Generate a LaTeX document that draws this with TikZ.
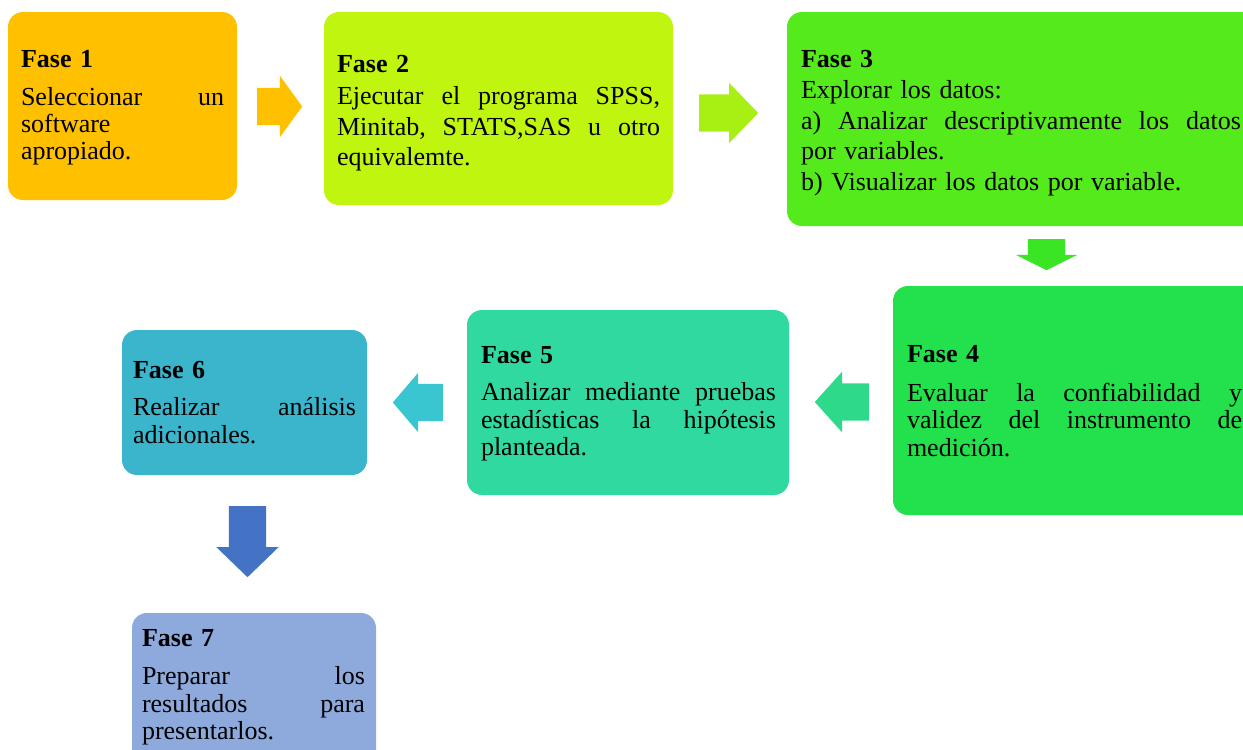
\documentclass[tikz,border=0pt]{standalone}
\usepackage{fontspec}
\setmainfont{Liberation Serif}
\usetikzlibrary{shapes.arrows}

\definecolor{cOne}{HTML}{FFC000}
\definecolor{cTwo}{HTML}{BFF50F}
\definecolor{cThree}{HTML}{55EA1C}
\definecolor{cFour}{HTML}{23E14C}
\definecolor{cFive}{HTML}{30D9A0}
\definecolor{cSix}{HTML}{3AB5CC}
\definecolor{cSeven}{HTML}{8EAADC}
\definecolor{aOne}{HTML}{FFC000}
\definecolor{aTwo}{HTML}{A8F013}
\definecolor{aThree}{HTML}{3AE524}
\definecolor{aFour}{HTML}{2EDA8A}
\definecolor{aFive}{HTML}{3AC6D0}
\definecolor{aSix}{HTML}{4472C4}

% a fully justified line of the given width; words are separated by \hfill
\newcommand{\jline}[2]{\leavevmode\hbox to #1{#2}}

\tikzset{
  phasebox/.style={rectangle, rounded corners=15pt, draw=none, inner sep=0pt},
  phasetext/.style={anchor=base west, inner sep=0pt, outer sep=0pt},
  blockarrow/.style={single arrow, draw=none, inner xsep=0pt, inner ysep=18.5pt,
    single arrow head indent=0pt, anchor=tail},
}

\begin{document}
\begin{tikzpicture}[x=1pt, y=-1pt]
  \useasboundingbox (0,0) rectangle (1243,750);
  \clip (0,0) rectangle (1243,750);
  \fill[white] (0,0) rectangle (1243,750);

  % phase boxes
  \node[phasebox, fill=cOne,   minimum width=229pt, minimum height=188pt] (f1) at (122.5,106) {};
  \node[phasebox, fill=cTwo,   minimum width=349pt, minimum height=193pt] (f2) at (498.5,108.5) {};
  \node[phasebox, fill=cThree, minimum width=473pt, minimum height=214pt] (f3) at (1023.5,119) {};
  \node[phasebox, fill=cFour,  minimum width=367pt, minimum height=229pt] (f4) at (1076.5,400.5) {};
  \node[phasebox, fill=cFive,  minimum width=322pt, minimum height=185pt] (f5) at (628,402.5) {};
  \node[phasebox, fill=cSix,   minimum width=245pt, minimum height=145pt] (f6) at (244.5,402.5) {};
  \node[phasebox, fill=cSeven, minimum width=244pt, minimum height=167pt] (f7) at (254,696.5) {};

  % texts
  \node[phasetext, text width=203pt, font=\fontsize{26}{27}\selectfont] (t1) at (21,67)
    {\textbf{Fase 1}\\[11pt]\jline{203pt}{Seleccionar\hfill un}\\software\\apropiado.};
  \node[phasetext, text width=323pt, font=\fontsize{26}{30.5}\selectfont] (t2) at (337,72)
    {\textbf{Fase 2}\\[2pt]\jline{323pt}{Ejecutar\hfill el\hfill programa\hfill SPSS,}\\
     \jline{323pt}{Minitab,\hfill STATS,SAS\hfill u\hfill otro}\\equivalemte.};
  \node[phasetext, text width=440pt, font=\fontsize{26}{30.5}\selectfont] (t3) at (801,67)
    {\textbf{Fase 3}\\[1pt]Explorar los datos:\\
     \jline{440pt}{a)\hfill Analizar\hfill descriptivamente\hfill los\hfill datos}\\
     por variables.\\b) Visualizar los datos por variable.};
  \node[phasetext, text width=335pt, font=\fontsize{26}{27.5}\selectfont] (t4) at (907,362)
    {\textbf{Fase 4}\\[11.5pt]\jline{335pt}{Evaluar\hfill la\hfill confiabilidad\hfill y}\\
     \jline{335pt}{validez\hfill del\hfill instrumento\hfill de}\\medición.};
  \node[phasetext, text width=295pt, font=\fontsize{26}{27.5}\selectfont] (t5) at (481,363)
    {\textbf{Fase 5}\\[10pt]\jline{295pt}{Analizar\hfill mediante\hfill pruebas}\\
     \jline{295pt}{estadísticas\hfill la\hfill hipótesis}\\planteada.};
  \node[phasetext, text width=223pt, font=\fontsize{26}{28}\selectfont] (t6) at (133,378)
    {\textbf{Fase 6}\\[9pt]\jline{223pt}{Realizar\hfill análisis}\\adicionales.};
  \node[phasetext, text width=223pt, font=\fontsize{26}{27.5}\selectfont] (t7) at (142,646)
    {\textbf{Fase 7}\\[11pt]\jline{223pt}{Preparar\hfill los}\\
     \jline{223pt}{resultados\hfill para}\\presentarlos.};

  % block arrows between phases, placed by their tails
  \node[blockarrow, fill=aOne, minimum height=45pt,
        single arrow head extend=12pt, single arrow tip angle=108] (a12) at (257,106.5) {};
  \node[blockarrow, fill=aTwo, minimum height=59pt,
        single arrow head extend=11.5pt, single arrow tip angle=92] (a23) at (699,113) {};
  \node[blockarrow, fill=aThree, minimum height=31pt, rotate=-90,
        single arrow head extend=12pt, single arrow tip angle=127] (a34) at (1046.5,239) {};
  \node[blockarrow, fill=aFour, minimum height=54pt, rotate=180,
        single arrow head extend=11.5pt, single arrow tip angle=96] (a45) at (869,402) {};
  \node[blockarrow, fill=aFive, minimum height=50pt, rotate=180,
        single arrow head extend=11pt, single arrow tip angle=99] (a56) at (443,402.5) {};
  \node[blockarrow, fill=aSix, minimum height=71pt, rotate=-90,
        single arrow head extend=12.5pt, single arrow tip angle=92] (a67) at (247.5,506) {};
\end{tikzpicture}
\end{document}
